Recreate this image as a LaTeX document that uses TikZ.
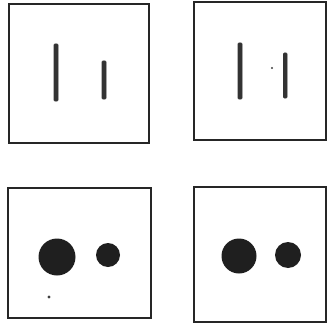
\documentclass[tikz,border=0pt]{standalone}
\begin{document}
\begin{tikzpicture}[x=1pt,y=-1pt,
  frame/.style={draw=black!85,line width=1.6pt},
  bar/.style={draw=black!80,fill=black!80,line width=0.6pt,rounded corners=0.8pt},
  blob/.style={fill=black!88},
  speck/.style={fill=black!75}]
\useasboundingbox (0,0) rectangle (328,329);
% top-left panel
\draw[frame] (9,4) rectangle (149,143);
\draw[bar] (54,44) rectangle (58,101);
\draw[bar] (102,61) rectangle (106,99);
% top-right panel
\draw[frame] (194,2) rectangle (326,140);
\draw[bar] (238,43) rectangle (242,99);
\draw[bar] (283.5,53) rectangle (287,98);
\fill[speck] (272,68) circle (1.1);
% bottom-left panel
\draw[frame] (8,188) rectangle (151,318);
\fill[blob] (57,257) circle (18.5);
\fill[blob] (108,255) circle (12);
\fill[speck] (49,297) circle (1.6);
% bottom-right panel
\draw[frame] (194,187) rectangle (326,322);
\fill[blob] (239,256) circle (17.5);
\fill[blob] (288,255) circle (13);
\end{tikzpicture}
\end{document}
